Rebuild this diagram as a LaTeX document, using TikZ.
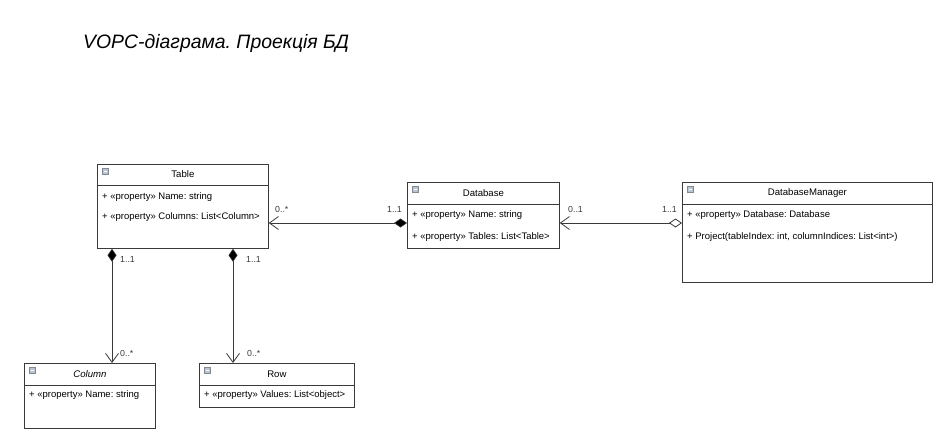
\documentclass[tikz,border=0pt]{standalone}
\usepackage{fontspec}
\setmainfont{Liberation Sans}
\usetikzlibrary{arrows.meta}
\frenchspacing
\definecolor{lncol}{HTML}{3A3A3A}
\definecolor{iconfill}{HTML}{B8C4D0}
\tikzset{
  classbox/.style={draw=lncol, line width=0.8pt, fill=white, anchor=north west, inner sep=0pt},
  ctitle/.style={font=\fontsize{9.6}{11}\selectfont, inner sep=0pt},
  cattr/.style={font=\fontsize{9.5}{11}\selectfont, anchor=west, inner sep=0pt},
  mult/.style={font=\fontsize{8.8}{10}\selectfont, inner sep=0pt, text=lncol},
  conn/.style={draw=lncol, line width=0.8pt},
  compoarrow/.style={{Diamond[length=13pt,width=9pt,fill=black,line width=0.6pt]}-{Straight Barb[length=9pt,width=13pt,line width=0.8pt]}},
  aggrarrow/.style={{Diamond[open,length=13pt,width=9pt,fill=white,line width=0.8pt]}-{Straight Barb[length=9pt,width=13pt,line width=0.8pt]}},
  iconbox/.style={draw=iconfill!70!black, fill=iconfill, line width=0.4pt}
}
\newcommand{\classicon}[1]{%
  \path[iconbox] ([xshift=5pt,yshift=-4pt]#1.north west) rectangle ++(6pt,-6pt);
  \draw[white, line width=0.6pt] ([xshift=6.5pt,yshift=-7pt]#1.north west) -- ++(3pt,0);
}
\begin{document}
\begin{tikzpicture}[x=1pt,y=-1pt]
\useasboundingbox[fill=white] (0,0) rectangle (940,433);

% title
\node[font=\fontsize{19.4}{22}\selectfont\itshape, anchor=west, inner sep=0pt] (title) at (83,43) {VOPC-діаграма. Проекція БД};

% Table
\node[classbox, minimum width=171pt, minimum height=84pt] (table) at (97,164) {};
\draw[lncol, line width=0.8pt] ([yshift=-21pt]table.north west) -- ([yshift=-21pt]table.north east);
\classicon{table}
\node[ctitle] at ([yshift=-10.5pt]table.north) {Table};
\node[cattr] at ([xshift=5pt,yshift=-33pt]table.north west) {+ «property» Name: string};
\node[cattr] at ([xshift=5pt,yshift=-53pt]table.north west) {+ «property» Columns: List<Column>};

% Database
\node[classbox, minimum width=152pt, minimum height=66pt] (db) at (407,182) {};
\draw[lncol, line width=0.8pt] ([yshift=-22pt]db.north west) -- ([yshift=-22pt]db.north east);
\classicon{db}
\node[ctitle] at ([yshift=-11pt]db.north) {Database};
\node[cattr] at ([xshift=5pt,yshift=-33pt]db.north west) {+ «property» Name: string};
\node[cattr] at ([xshift=5pt,yshift=-55pt]db.north west) {+ «property» Tables: List<Table>};

% DatabaseManager
\node[classbox, minimum width=250pt, minimum height=100pt] (dm) at (682,182) {};
\draw[lncol, line width=0.8pt] ([yshift=-22pt]dm.north west) -- ([yshift=-22pt]dm.north east);
\classicon{dm}
\node[ctitle] at ([yshift=-11pt]dm.north) {DatabaseManager};
\node[cattr] at ([xshift=5pt,yshift=-33pt]dm.north west) {+ «property» Database: Database};
\node[cattr] at ([xshift=5pt,yshift=-55pt]dm.north west) {+ Project(tableIndex: int, columnIndices: List<int>)};

% Column
\node[classbox, minimum width=131pt, minimum height=65pt] (col) at (24,363) {};
\draw[lncol, line width=0.8pt] ([yshift=-22pt]col.north west) -- ([yshift=-22pt]col.north east);
\classicon{col}
\node[ctitle, font=\fontsize{9.6}{11}\selectfont\itshape] at ([yshift=-11pt]col.north) {Column};
\node[cattr] at ([xshift=5pt,yshift=-32pt]col.north west) {+ «property» Name: string};

% Row
\node[classbox, minimum width=155pt, minimum height=44pt] (row) at (199,363) {};
\draw[lncol, line width=0.8pt] ([yshift=-22pt]row.north west) -- ([yshift=-22pt]row.north east);
\classicon{row}
\node[ctitle] at ([yshift=-11pt]row.north) {Row};
\node[cattr] at ([xshift=5pt,yshift=-32pt]row.north west) {+ «property» Values: List<object>};

% connectors
\draw[conn, compoarrow] (db.west |- 0,223) -- (table.east |- 0,223);
\draw[conn, aggrarrow] (dm.west |- 0,223) -- (db.east |- 0,223);
\draw[conn, compoarrow] (table.south -| 112,0) -- (col.north -| 112,0);
\draw[conn, compoarrow] (table.south -| 233,0) -- (row.north -| 233,0);

% multiplicities
\node[mult, anchor=west] (m1) at (275,209) {0..*};
\node[mult, anchor=east] (m2) at (402,209) {1..1};
\node[mult, anchor=west] (m3) at (568,209) {0..1};
\node[mult, anchor=east] (m4) at (677,209) {1..1};
\node[mult, anchor=west] (m5) at (120,259) {1..1};
\node[mult, anchor=west] (m6) at (120,353) {0..*};
\node[mult, anchor=west] (m7) at (246,259) {1..1};
\node[mult, anchor=west] (m8) at (247,353) {0..*};
\end{tikzpicture}
\end{document}
